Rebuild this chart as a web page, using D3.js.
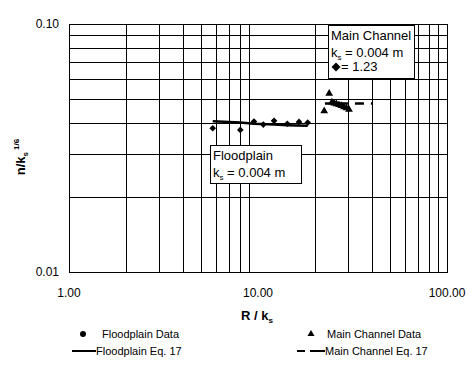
<!DOCTYPE html>
<html><head><meta charset="utf-8">
<script src="https://cdn.jsdelivr.net/npm/d3@7"></script>
<style>
body{margin:0;background:#fff;}
text{font-family:"Liberation Sans",Arial,sans-serif;fill:#000;}
</style></head>
<body><svg id="c" width="476" height="367"></svg>
<script>
// Data
const floodX = [5.76, 8.06, 9.52, 10.67, 12.16, 14.29, 16.48, 18.32];
const floodY = [0.0380, 0.0374, 0.0404, 0.0393, 0.0407, 0.0396, 0.0403, 0.0400];
const floodEqX = [5.76, 8.06, 9.52, 12.16, 14.29, 18.32];
const floodEqY = [0.0405, 0.0401, 0.0396, 0.0393, 0.0391, 0.0389];
const mainX = [22.4, 23.8, 24.6, 25.3, 26.0, 26.8, 27.6, 28.5, 29.4, 30.3];
const mainY = [0.0446, 0.0525, 0.0484, 0.0479, 0.0476, 0.0472, 0.0468, 0.0463, 0.0458, 0.0452];
const mainEqX = [22.6, 40.6];
const mainEqY = [0.0478, 0.0478];
const xTicks = [1, 10, 100];
const xTickLabels = ["1.00", "10.00", "100.00"];
const yTicks = [0.01, 0.1];
const yTickLabels = ["0.01", "0.10"];

const svg = d3.select("#c");
const L = 69, R = 447, T = 24, B = 272;
const x = d3.scaleLog().domain([1, 100]).range([L, R]);
const y = d3.scaleLog().domain([0.01, 0.1]).range([B, T]);

// grid
const xGrid = [];
for (let d = 1; d < 100; d *= 10) for (let k = 2; k <= 9; k++) xGrid.push(k * d);
const yGrid = [];
for (let k = 2; k <= 9; k++) yGrid.push(k * 0.01);
const g = svg.append("g").attr("stroke", "#000").attr("stroke-width", 1);
g.selectAll(".vx").data(xGrid).join("line")
  .attr("x1", d => Math.round(x(d)) + 0.5).attr("x2", d => Math.round(x(d)) + 0.5)
  .attr("y1", T).attr("y2", B);
g.selectAll(".hy").data(yGrid).join("line")
  .attr("y1", d => Math.round(y(d)) + 0.5).attr("y2", d => Math.round(y(d)) + 0.5)
  .attr("x1", L).attr("x2", R);
svg.append("rect").attr("x", L + 0.5).attr("y", T + 0.5).attr("width", R - L).attr("height", B - T)
  .attr("fill", "none").attr("stroke", "#000").attr("stroke-width", 1);

// axes labels
svg.selectAll(".xt").data(xTicks).join("text")
  .attr("x", d => x(d)).attr("y", 297).attr("text-anchor", "middle")
  .attr("font-size", 12).text((d, i) => xTickLabels[i]);
svg.selectAll(".yt").data(yTicks).join("text")
  .attr("x", 59).attr("y", d => y(d) + 4).attr("text-anchor", "end")
  .attr("font-size", 12).text((d, i) => yTickLabels[i]);

// axis titles
const xt = svg.append("text").attr("x", 257).attr("y", 320).attr("text-anchor", "middle")
  .attr("font-size", 13).attr("font-weight", "bold");
xt.append("tspan").text("R / k");
xt.append("tspan").attr("font-size", 8).attr("dy", 3).text("s");

const yt = svg.append("text").attr("transform", "translate(25,157) rotate(-90)")
  .attr("text-anchor", "middle").attr("font-size", 13).attr("font-weight", "bold");
yt.append("tspan").text("n/k");
yt.append("tspan").attr("font-size", 8).attr("dy", 3).text("s");
yt.append("tspan").attr("font-size", 8).attr("dy", -9).attr("dx", 2).text("1/6");

// eq lines
const line = d3.line().x(d => x(d[0])).y(d => y(d[1]));
svg.append("path").datum(floodEqX.map((v, i) => [v, floodEqY[i]]))
  .attr("d", line).attr("fill", "none").attr("stroke", "#000").attr("stroke-width", 2.5);
svg.append("path").datum(mainEqX.map((v, i) => [v, mainEqY[i]]))
  .attr("d", line).attr("fill", "none").attr("stroke", "#000").attr("stroke-width", 2.5)
  .attr("stroke-dasharray", "23,7,9,7");

// markers (square rotated 45deg = diamond)
const diamond = d3.symbol().type(d3.symbolSquare).size(22);
svg.selectAll(".fp").data(floodX.map((v, i) => [v, floodY[i]])).join("path")
  .attr("d", diamond).attr("transform", d => `translate(${x(d[0])},${y(d[1])}) rotate(45)`).attr("fill", "#000");
const tri = d3.symbol().type(d3.symbolTriangle).size(26);
svg.selectAll(".mc").data(mainX.map((v, i) => [v, mainY[i]])).join("path")
  .attr("d", tri).attr("transform", d => `translate(${x(d[0])},${y(d[1])})`).attr("fill", "#000");

// annotation boxes
function box(bx, by, bw, bh) {
  svg.append("rect").attr("x", bx + 0.5).attr("y", by + 0.5).attr("width", bw).attr("height", bh)
    .attr("fill", "#fff").attr("stroke", "#000").attr("stroke-width", 1);
}
box(328, 25, 86, 53);
svg.append("text").attr("x", 331).attr("y", 40).attr("font-size", 13).text("Main Channel");
const k1 = svg.append("text").attr("x", 331).attr("y", 57).attr("font-size", 13);
k1.append("tspan").text("k");
k1.append("tspan").attr("font-size", 8).attr("dy", 3).text("s");
k1.append("tspan").attr("dy", -3).text(" = 0.004 m");
svg.append("path").attr("d", d3.symbol().type(d3.symbolSquare).size(40)())
  .attr("transform", "translate(336,67) rotate(45)").attr("fill", "#000");
svg.append("text").attr("x", 341).attr("y", 71).attr("font-size", 13).text("= 1.23");

box(210, 145, 91, 38);
svg.append("text").attr("x", 213).attr("y", 160).attr("font-size", 13).text("Floodplain");
const k2 = svg.append("text").attr("x", 213).attr("y", 177).attr("font-size", 13);
k2.append("tspan").text("k");
k2.append("tspan").attr("font-size", 8).attr("dy", 3).text("s");
k2.append("tspan").attr("dy", -3).text(" = 0.004 m");

// legend
svg.append("circle").attr("cx", 83).attr("cy", 334).attr("r", 3).attr("fill", "#000");
svg.append("text").attr("x", 102).attr("y", 338).attr("font-size", 11).text("Floodplain Data");
svg.append("path").attr("d", d3.symbol().type(d3.symbolTriangle).size(22)())
  .attr("transform", "translate(311,334)").attr("fill", "#000");
svg.append("text").attr("x", 327).attr("y", 338).attr("font-size", 11).text("Main Channel Data");
svg.append("line").attr("x1", 72).attr("x2", 96).attr("y1", 351).attr("y2", 351)
  .attr("stroke", "#000").attr("stroke-width", 2);
svg.append("text").attr("x", 96).attr("y", 355).attr("font-size", 11).text("Floodplain Eq. 17");
svg.append("line").attr("x1", 297).attr("x2", 325).attr("y1", 351).attr("y2", 351)
  .attr("stroke", "#000").attr("stroke-width", 2).attr("stroke-dasharray", "8,5,15");
svg.append("text").attr("x", 325).attr("y", 355).attr("font-size", 11).text("Main Channel Eq. 17");
</script></body></html>
